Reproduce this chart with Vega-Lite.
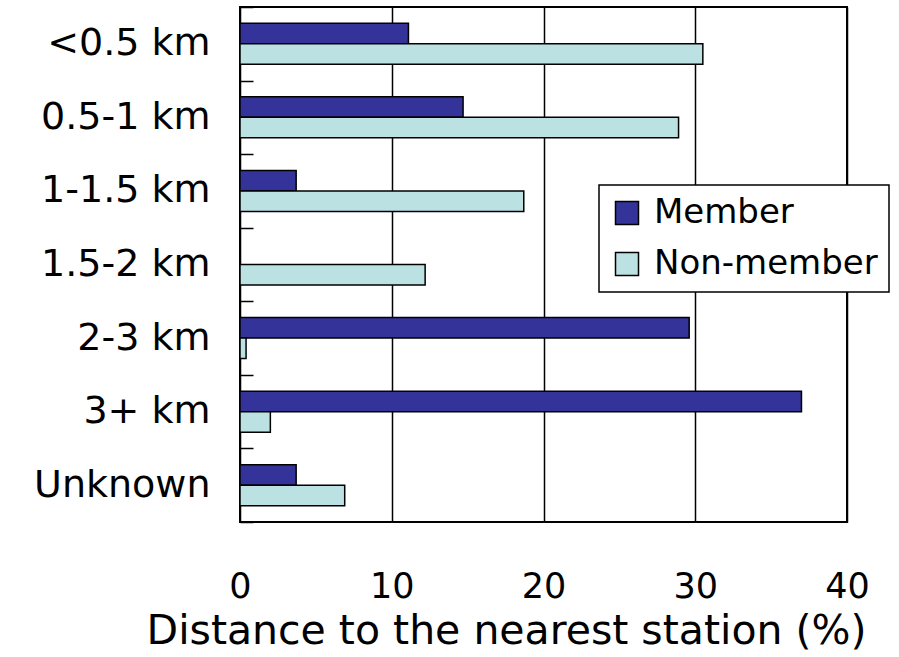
{
  "$schema": "https://vega.github.io/schema/vega-lite/v6.json",
  "autosize": "none",
  "width": 607,
  "height": 515,
  "padding": {"left": 240, "top": 7, "right": 52, "bottom": 135},
  "background": "white",
  "data": {
    "values": [
      {"Distance": "<0.5 km", "Group": "Member", "Percent": 11.1},
      {"Distance": "<0.5 km", "Group": "Non-member", "Percent": 30.5},
      {"Distance": "0.5-1 km", "Group": "Member", "Percent": 14.7},
      {"Distance": "0.5-1 km", "Group": "Non-member", "Percent": 28.9},
      {"Distance": "1-1.5 km", "Group": "Member", "Percent": 3.7},
      {"Distance": "1-1.5 km", "Group": "Non-member", "Percent": 18.7},
      {"Distance": "1.5-2 km", "Group": "Member", "Percent": 0},
      {"Distance": "1.5-2 km", "Group": "Non-member", "Percent": 12.2},
      {"Distance": "2-3 km", "Group": "Member", "Percent": 29.6},
      {"Distance": "2-3 km", "Group": "Non-member", "Percent": 0.4},
      {"Distance": "3+ km", "Group": "Member", "Percent": 37.0},
      {"Distance": "3+ km", "Group": "Non-member", "Percent": 2.0},
      {"Distance": "Unknown", "Group": "Member", "Percent": 3.7},
      {"Distance": "Unknown", "Group": "Non-member", "Percent": 6.9}
    ]
  },
  "mark": {"type": "bar", "stroke": "black", "strokeWidth": 1.5},
  "encoding": {
    "y": {
      "field": "Distance",
      "type": "nominal",
      "sort": ["<0.5 km", "0.5-1 km", "1-1.5 km", "1.5-2 km", "2-3 km", "3+ km", "Unknown"],
      "scale": {"paddingInner": 0, "paddingOuter": 0},
      "axis": {
        "title": null,
        "domain": false,
        "ticks": true,
        "tickBand": "extent",
        "tickSize": -13,
        "tickWidth": 1.5,
        "tickColor": "black",
        "labelFont": "DejaVu Sans",
        "labelFontSize": 38,
        "labelColor": "black",
        "labelPadding": 43,
        "labelLimit": 300
      }
    },
    "yOffset": {
      "field": "Group",
      "type": "nominal",
      "sort": ["Member", "Non-member"],
      "scale": {"paddingInner": 0, "paddingOuter": 0.794}
    },
    "x": {
      "field": "Percent",
      "type": "quantitative",
      "scale": {"domain": [0, 40], "nice": false},
      "axis": {
        "values": [0, 10, 20, 30, 40],
        "title": "Distance to the nearest station (%)",
        "titleFont": "DejaVu Sans",
        "titleFontSize": 41,
        "titleFontWeight": "normal",
        "titleColor": "black",
        "titlePadding": 7,
        "titleX": 266,
        "titleAlign": "center",
        "titleAnchor": "start",
        "domain": false,
        "ticks": false,
        "grid": true,
        "gridColor": "black",
        "gridWidth": 1.5,
        "gridOpacity": 1,
        "labelFont": "DejaVu Sans",
        "labelFontSize": 35,
        "labelColor": "black",
        "labelPadding": 47,
        "labelFlush": false
      }
    },
    "color": {
      "field": "Group",
      "type": "nominal",
      "scale": {"domain": ["Member", "Non-member"], "range": ["#333399", "#BCE1E3"]},
      "legend": {
        "title": null,
        "orient": "none",
        "legendX": 359,
        "legendY": 178,
        "padding": 11,
        "strokeColor": "black",
        "fillColor": "white",
        "symbolType": "square",
        "symbolSize": 529,
        "symbolStrokeColor": "black",
        "symbolStrokeWidth": 1.5,
        "symbolOpacity": 1,
        "labelFont": "DejaVu Sans",
        "labelFontSize": 34,
        "labelColor": "black",
        "labelOffset": 10,
        "rowPadding": 17,
        "labelLimit": 400
      }
    }
  },
  "config": {
    "view": {"stroke": "black", "strokeWidth": 2},
    "legend": {"strokeWidth": 1.5}
  }
}
